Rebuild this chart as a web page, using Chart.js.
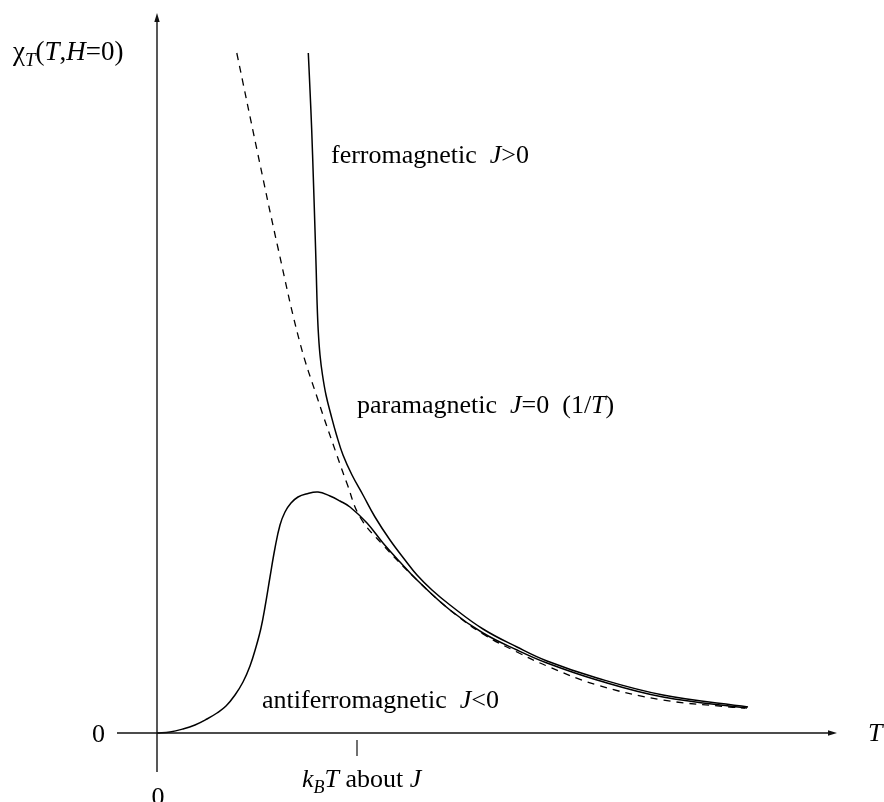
<!DOCTYPE html>
<html>
<head>
<meta charset="utf-8">
<script src="https://cdn.jsdelivr.net/npm/chart.js@4/dist/chart.umd.min.js"></script>
<style>
  html, body { margin: 0; padding: 0; background: #fff; }
  #c { display: block; }
</style>
</head>
<body>
<canvas id="c" width="884" height="802"></canvas>
<script>
// ---- Data (T in units of J/k_B, chi in arbitrary units) ----
const paraT   = [0.399, 0.50, 0.605, 0.715, 0.805, 0.899, 0.949, 1.015, 1.13, 1.30, 1.465, 1.63, 1.80, 1.95, 2.20, 2.53, 2.865, 2.94];
const paraChi = [6.80, 5.83, 4.85, 3.90, 3.33, 2.78, 2.50, 2.16, 1.88, 1.53, 1.23, 0.99, 0.81, 0.67, 0.48, 0.33, 0.26, 0.25];

const ferroT   = [0.7565, 0.765, 0.7735, 0.782, 0.79, 0.796, 0.80, 0.806, 0.815, 0.8275, 0.845, 0.87, 0.8975, 0.93, 0.975, 1.03, 1.09, 1.165, 1.24, 1.30, 1.375, 1.465, 1.63, 1.80, 1.95, 2.20, 2.53, 2.955];
const ferroChi = [6.80, 6.43, 6.03, 5.53, 5.03, 4.63, 4.33, 4.03, 3.78, 3.58, 3.38, 3.18, 2.98, 2.78, 2.58, 2.38, 2.16, 1.93, 1.73, 1.58, 1.43, 1.28, 1.04, 0.86, 0.72, 0.55, 0.38, 0.26];

const antiT   = [0, 0.065, 0.13, 0.19, 0.25, 0.30, 0.345, 0.39, 0.43, 0.465, 0.495, 0.52, 0.54, 0.565, 0.59, 0.615, 0.64, 0.67, 0.705, 0.745, 0.805, 0.865, 0.915, 0.965, 1.05, 1.13, 1.215, 1.30, 1.465, 1.63, 1.80, 1.95, 2.20, 2.53, 2.95];
const antiChi = [0, 0.01, 0.04, 0.08, 0.14, 0.20, 0.27, 0.38, 0.51, 0.67, 0.86, 1.05, 1.26, 1.56, 1.85, 2.08, 2.21, 2.30, 2.36, 2.39, 2.41, 2.37, 2.32, 2.26, 2.10, 1.90, 1.71, 1.53, 1.23, 1.00, 0.83, 0.70, 0.53, 0.36, 0.25];

const tickT = [1];

const toPts = (xs, ys) => xs.map((x, i) => ({ x: x, y: ys[i] }));

const FONT = "'Liberation Serif', 'Times New Roman', serif";

function drawRich(ctx, parts, x, y, align, size) {
  const big = size || 26, small = Math.round(big * 0.7);
  const setFont = p => { ctx.font = (p.it ? 'italic ' : '') + (p.sub ? small : big) + 'px ' + FONT; };
  let total = 0;
  parts.forEach(p => { setFont(p); total += ctx.measureText(p.t).width; });
  let cx = x;
  if (align === 'right') cx = x - total;
  if (align === 'center') cx = x - total / 2;
  ctx.textBaseline = 'alphabetic';
  ctx.textAlign = 'left';
  ctx.fillStyle = '#000';
  parts.forEach(p => {
    setFont(p);
    ctx.fillText(p.t, cx, y + (p.sub ? 6 : 0));
    cx += ctx.measureText(p.t).width;
  });
}

const axesPlugin = {
  id: 'physAxes',
  afterDatasetsDraw(chart) {
    const ctx = chart.ctx;
    const xs = chart.scales.x, ys = chart.scales.y;
    const X = v => xs.getPixelForValue(v), Y = v => ys.getPixelForValue(v);
    ctx.save();
    ctx.strokeStyle = '#111';
    ctx.fillStyle = '#111';
    ctx.lineWidth = 1.4;
    // x axis
    const x0 = X(-0.2), x1 = X(3.4), yz = Y(0);
    ctx.beginPath(); ctx.moveTo(x0, yz); ctx.lineTo(x1 - 6, yz); ctx.stroke();
    ctx.beginPath(); ctx.moveTo(x1, yz); ctx.lineTo(x1 - 9, yz - 2.7); ctx.lineTo(x1 - 9, yz + 2.7); ctx.closePath(); ctx.fill();
    // y axis
    const xz = X(0), yb = Y(-0.39), yt = Y(7.2);
    ctx.beginPath(); ctx.moveTo(xz, yb); ctx.lineTo(xz, yt + 6); ctx.stroke();
    ctx.beginPath(); ctx.moveTo(xz, yt); ctx.lineTo(xz - 2.7, yt + 9); ctx.lineTo(xz + 2.7, yt + 9); ctx.closePath(); ctx.fill();
    // tick
    ctx.lineWidth = 1.2;
    tickT.forEach(t => {
      ctx.beginPath(); ctx.moveTo(X(t), Y(-0.07)); ctx.lineTo(X(t), Y(-0.23)); ctx.stroke();
    });
    ctx.restore();

    ctx.save();
    drawRich(ctx, [{t:'χ'}, {t:'T', it:true, sub:true}, {t:'('}, {t:'T', it:true}, {t:','}, {t:'H', it:true}, {t:'=0)'}], 13, 60, 'left', 27);
    drawRich(ctx, [{t:'0'}], 105, 742, 'right');
    drawRich(ctx, [{t:'0'}], X(0) + 1, 805, 'center');
    drawRich(ctx, [{t:'T', it:true}], 868, 741);
    drawRich(ctx, [{t:'k', it:true}, {t:'B', it:true, sub:true}, {t:'T', it:true}, {t:' about '}, {t:'J', it:true}], 302, 787);
    drawRich(ctx, [{t:'ferromagnetic  '}, {t:'J', it:true}, {t:'>0'}], 331, 163);
    drawRich(ctx, [{t:'paramagnetic  '}, {t:'J', it:true}, {t:'=0  (1/'}, {t:'T', it:true}, {t:')'}], 357, 413);
    drawRich(ctx, [{t:'antiferromagnetic  '}, {t:'J', it:true}, {t:'<0'}], 262, 708);
    ctx.restore();
  }
};

const lineBase = {
  showLine: true,
  pointRadius: 0,
  borderColor: '#000',
  fill: false,
  tension: 0.4
};

new Chart(document.getElementById('c'), {
  type: 'scatter',
  data: {
    datasets: [
      Object.assign({}, lineBase, { label: 'paramagnetic J=0 (1/T)', data: toPts(paraT, paraChi), borderWidth: 1.3, borderDash: [7, 6] }),
      Object.assign({}, lineBase, { label: 'ferromagnetic J>0', data: toPts(ferroT, ferroChi), borderWidth: 1.5 }),
      Object.assign({}, lineBase, { label: 'antiferromagnetic J<0', data: toPts(antiT, antiChi), borderWidth: 1.5 })
    ]
  },
  options: {
    responsive: false,
    animation: false,
    layout: { padding: 0 },
    plugins: { legend: { display: false }, tooltip: { enabled: false } },
    scales: {
      x: { type: 'linear', display: false, min: -0.785, max: 3.635 },
      y: { type: 'linear', display: false, min: -0.69, max: 7.33 }
    }
  },
  plugins: [axesPlugin]
});
</script>
</body>
</html>
